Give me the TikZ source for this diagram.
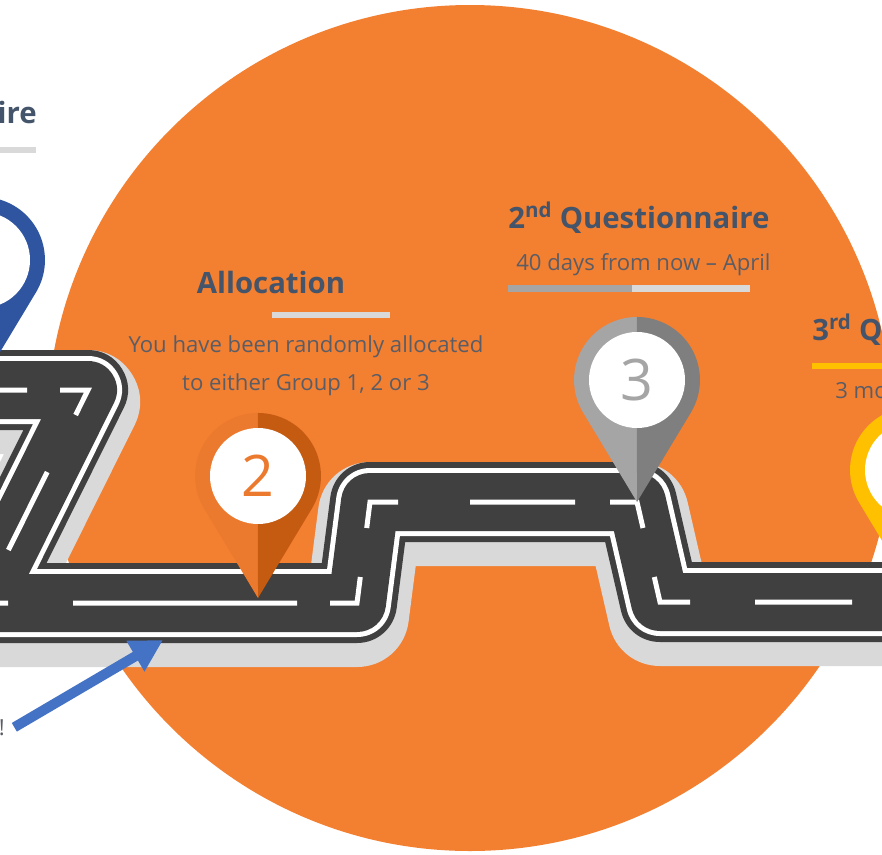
\documentclass[tikz,border=0pt]{standalone}
\usepackage{fontspec}
\setmainfont{Open Sans}
\usetikzlibrary{arrows.meta,calc,positioning}
\definecolor{discorange}{HTML}{F37F30}
\definecolor{slate}{HTML}{44546A}
\definecolor{txtgray}{HTML}{5B5D66}
\definecolor{asphalt}{HTML}{404040}
\definecolor{verge}{HTML}{D9D9D9}
\definecolor{pinblue}{HTML}{2F55A0}
\definecolor{pinorange}{HTML}{EC7A2E}
\definecolor{pinorangedark}{HTML}{C55A11}
\definecolor{pingray}{HTML}{A5A5A5}
\definecolor{pingraydark}{HTML}{7F7F7F}
\definecolor{pinyellow}{HTML}{FFC000}
\definecolor{pinyellowdark}{HTML}{BF9000}
\definecolor{arrowblue}{HTML}{4472C4}
% map pin: #1 centre of the head, #2 left half, #3 right half
\newcommand{\mappin}[3]{%
  \fill[#2] ($(#1)+(0,122)$) -- ($(#1)+(-53.9,32.5)$)
    arc[start angle=148.9,end angle=270,radius=63] -- cycle;
  \fill[#3] ($(#1)+(0,122)$) -- ($(#1)+(53.9,32.5)$)
    arc[start angle=31.1,end angle=-90,radius=63] -- cycle;
  \fill[white] (#1) circle[radius=48];
}

\begin{document}
\begin{tikzpicture}[
  x=0.75pt,y=-0.75pt,
  titletxt/.style={font=\fontsize{22}{26}\selectfont\bfseries,text=slate,inner sep=0pt},
  subtxt/.style={font=\fontsize{16.6}{20}\selectfont,text=txtgray,inner sep=0pt},
  pinnum/.style={font=\fontsize{43}{50}\selectfont,inner sep=0pt},
  centreline/.style={white,line width=3.75pt,line join=miter},
  pointer/.style={arrowblue,line width=7.5pt,-{Triangle[length=24pt,width=25pt]}}
]
  \clip (0,0) rectangle (882,854);
  \fill[white] (0,0) rectangle (882,854);
  \fill[discorange] (470,428) circle[radius=423];

  % the road: shadow, tarmac, white kerb lines
  \foreach \s/\w/\c in {12/78pt/verge,0/60pt/asphalt,0/51pt/white,0/43.5pt/asphalt}
    \draw[\c,line width=\w,line join=round,shift={(0,\s)}]
      (-60,390) -- (88,390) -- (-18,603) -- (357,603) -- (370,502)
      -- (637,502) -- (660,602) -- (960,602);
  \draw[centreline]
    (-10,390) -- (27,390)
    (60,390) -- (88,390) -- (75.6,415)
    (47.2,472) -- (8.4,550)
    (-4.6,576) -- (-18,603) -- (8,603)
    (73,603) -- (297,603)
    (330,603) -- (357,603) -- (360.3,577)
    (366.7,528) -- (370,502) -- (398,502)
    (470,502) -- (575,502)
    (610,502) -- (637,502) -- (643,528)
    (654.3,577) -- (660,602) -- (690,602)
    (755,602) -- (852,602);

  % pins along the road
  \coordinate (p1) at (-18,260);
  \coordinate (p2) at (258,476);
  \coordinate (p3) at (637,380);
  \coordinate (p4) at (913,470);
  \mappin{p1}{pinblue}{pinblue}
  \mappin{p2}{pinorange}{pinorangedark}
  \mappin{p3}{pingray}{pingraydark}
  \mappin{p4}{pinyellow}{pinyellowdark}
  \node[pinnum,text=pinorange] (num2) at (p2) {2};
  \node[pinnum,text=pingray] (num3) at (p3) {3};

  % labels
  \node[titletxt,anchor=base east] (q1title) at (37,123) {ire};
  \fill[verge] (0,147) rectangle (36,153);

  \node[titletxt,anchor=base] (alloctitle) at (271,293) {Allocation};
  \fill[verge] (272,312) rectangle (390,318);
  \node[subtxt,anchor=base] (alloc1) at (306,352) {You have been randomly allocated};
  \node[subtxt,anchor=base] (alloc2) at ([yshift=-29pt]alloc1.base) {to either Group 1, 2 or 3};

  \node[titletxt,anchor=base west] (q2title) at (508,228) {2\textsuperscript{nd} Questionnaire};
  \node[subtxt,anchor=base west] (q2when) at (516,270) {40 days from now -- April};
  \fill[pingray] (508,285) rectangle (632,292);
  \fill[verge] (632,285) rectangle (750,292);

  \node[titletxt,anchor=base west] (q3title) at (812,340) {3\textsuperscript{rd} Q};
  \fill[pinyellow] (812,363) rectangle (882,369);
  \node[subtxt,anchor=base west] (q3when) at (835,398) {3 mo};

  \node[subtxt,anchor=base east] (bang) at (5,735) {!};
  \coordinate (roadedge) at (163,640);
  \draw[pointer] ([xshift=7pt]bang.east) -- (roadedge);
\end{tikzpicture}
\end{document}
